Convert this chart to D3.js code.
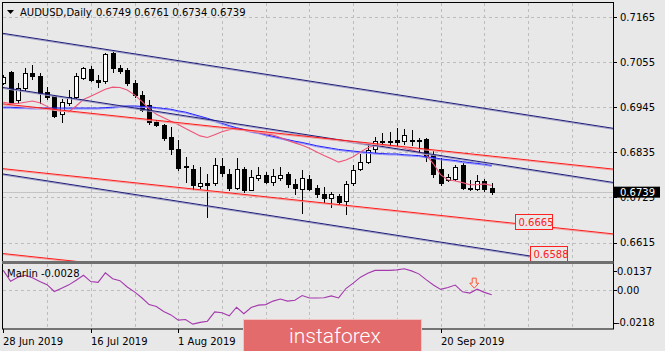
<!DOCTYPE html>
<html lang="en">
<head>
<meta charset="UTF-8" />
<title>AUDUSD,Daily</title>
<script src="https://cdn.jsdelivr.net/npm/d3@7"></script>
<style>
  body { margin: 0; background: #e8e8e8; }
  svg { display: block; font-family: "DejaVu Sans", sans-serif; font-size: 10px; }
</style>
</head>
<body>
<div id="wrapper"></div>
<script>
// daily candles, 28 Jun 2019 .. 1 Oct 2019
const opens = [0.7003, 0.7031, 0.6962, 0.6991, 0.7029, 0.7021, 0.6983, 0.6972, 0.6928, 0.6956,
  0.6970, 0.7015, 0.7037, 0.7011, 0.7009, 0.7076, 0.7041, 0.7036, 0.7005, 0.6974,
  0.6950, 0.6909, 0.6901, 0.6873, 0.6844, 0.6801, 0.6795, 0.6752, 0.6759, 0.6759,
  0.6801, 0.6783, 0.6749, 0.6795, 0.6744, 0.6773, 0.6779, 0.6763, 0.6773, 0.6781,
  0.6757, 0.6746, 0.6771, 0.6749, 0.6733, 0.6724, 0.6728, 0.6716, 0.6759, 0.6795,
  0.6811, 0.6842, 0.6862, 0.6862, 0.6864, 0.6862, 0.6864, 0.6864, 0.6867, 0.6828,
  0.6795, 0.6767, 0.6771, 0.6803, 0.6748, 0.6746, 0.6764, 0.6749]
const highs = [0.7023, 0.7034, 0.7004, 0.7040, 0.7048, 0.7028, 0.6995, 0.6974, 0.6966, 0.6987,
  0.7028, 0.7044, 0.7045, 0.7023, 0.7078, 0.7084, 0.7048, 0.7040, 0.7011, 0.6985,
  0.6962, 0.6913, 0.6904, 0.6897, 0.6864, 0.6823, 0.6803, 0.6799, 0.6783, 0.6822,
  0.6820, 0.6795, 0.6820, 0.6799, 0.6791, 0.6799, 0.6787, 0.6795, 0.6799, 0.6787,
  0.6771, 0.6791, 0.6779, 0.6755, 0.6750, 0.6738, 0.6734, 0.6765, 0.6803, 0.6832,
  0.6856, 0.6873, 0.6881, 0.6885, 0.6895, 0.6893, 0.6889, 0.6870, 0.6870, 0.6838,
  0.6820, 0.6781, 0.6805, 0.6808, 0.6767, 0.6779, 0.6771, 0.6761]
const lows = [0.7001, 0.6955, 0.6955, 0.6987, 0.7014, 0.6955, 0.6966, 0.6920, 0.6909, 0.6950,
  0.6967, 0.7013, 0.7009, 0.6995, 0.7003, 0.7031, 0.7028, 0.6999, 0.6970, 0.6935,
  0.6904, 0.6899, 0.6864, 0.6832, 0.6791, 0.6763, 0.6745, 0.6749, 0.6676, 0.6755,
  0.6777, 0.6744, 0.6746, 0.6738, 0.6742, 0.6767, 0.6759, 0.6755, 0.6767, 0.6750,
  0.6734, 0.6687, 0.6742, 0.6726, 0.6714, 0.6701, 0.6710, 0.6685, 0.6755, 0.6791,
  0.6808, 0.6836, 0.6852, 0.6854, 0.6854, 0.6856, 0.6854, 0.6836, 0.6813, 0.6775,
  0.6755, 0.6764, 0.6767, 0.6745, 0.6742, 0.6742, 0.6740, 0.6734]
const closes = [0.7019, 0.6958, 0.6992, 0.7029, 0.7021, 0.6979, 0.6970, 0.6923, 0.6958, 0.6970,
  0.7021, 0.7040, 0.7011, 0.7006, 0.7075, 0.7040, 0.7034, 0.7003, 0.6974, 0.6938,
  0.6909, 0.6901, 0.6869, 0.6842, 0.6796, 0.6798, 0.6755, 0.6759, 0.6755, 0.6803,
  0.6785, 0.6749, 0.6795, 0.6742, 0.6775, 0.6779, 0.6763, 0.6777, 0.6779, 0.6757,
  0.6749, 0.6773, 0.6746, 0.6733, 0.6724, 0.6734, 0.6714, 0.6757, 0.6793, 0.6811,
  0.6840, 0.6862, 0.6859, 0.6859, 0.6860, 0.6878, 0.6862, 0.6862, 0.6824, 0.6781,
  0.6759, 0.6775, 0.6799, 0.6748, 0.6745, 0.6764, 0.6746, 0.6739]

// moving averages drawn on the chart
const maFast = [0.6957, 0.6954, 0.6954, 0.6957, 0.6960, 0.6956, 0.6947, 0.6938, 0.6935, 0.6934,
  0.6948, 0.6964, 0.6972, 0.6980, 0.6989, 0.6994, 0.6993, 0.6987, 0.6975, 0.6959,
  0.6941, 0.6928, 0.6919, 0.6911, 0.6903, 0.6893, 0.6884, 0.6875, 0.6871, 0.6878,
  0.6885, 0.6890, 0.6892, 0.6889, 0.6886, 0.6883, 0.6880, 0.6877, 0.6871, 0.6864,
  0.6858, 0.6852, 0.6845, 0.6836, 0.6827, 0.6819, 0.6811, 0.6816, 0.6824, 0.6836,
  0.6846, 0.6852, 0.6851, 0.6851, 0.6849, 0.6845, 0.6841, 0.6835, 0.6829, 0.6807,
  0.6780, 0.6768, 0.6765, 0.6761, 0.6756, 0.6756, 0.6758, 0.6754]
const maSlow = [0.6945, 0.6945, 0.6944, 0.6944, 0.6943, 0.6943, 0.6943, 0.6943, 0.6943, 0.6943,
  0.6943, 0.6943, 0.6943, 0.6943, 0.6944, 0.6945, 0.6947, 0.6948, 0.6948, 0.6947,
  0.6946, 0.6944, 0.6942, 0.6940, 0.6936, 0.6933, 0.6928, 0.6923, 0.6918, 0.6912,
  0.6906, 0.6900, 0.6895, 0.6891, 0.6886, 0.6883, 0.6878, 0.6874, 0.6870, 0.6866,
  0.6862, 0.6859, 0.6855, 0.6851, 0.6848, 0.6845, 0.6842, 0.6840, 0.6838, 0.6836,
  0.6835, 0.6833, 0.6832, 0.6831, 0.6831, 0.6829, 0.6828, 0.6827, 0.6824, 0.6822,
  0.6819, 0.6817, 0.6815, 0.6812, 0.6810, 0.6808, 0.6806, 0.6803]

// Marlin oscillator
const marlin = [0.0112, 0.0050, 0.0073, 0.0084, 0.0070, 0.0048, 0.0030, -0.0009, 0.0010, 0.0029,
  0.0055, 0.0084, 0.0048, 0.0043, 0.0098, 0.0064, 0.0053, 0.0017, -0.0011, -0.0045,
  -0.0084, -0.0095, -0.0123, -0.0143, -0.0173, -0.0169, -0.0196, -0.0186, -0.0179, -0.0126,
  -0.0131, -0.0148, -0.0099, -0.0136, -0.0101, -0.0087, -0.0084, -0.0064, -0.0052, -0.0064,
  -0.0059, -0.0032, -0.0046, -0.0046, -0.0045, -0.0034, -0.0046, 0.0008, 0.0039, 0.0073,
  0.0095, 0.0112, 0.0112, 0.0112, 0.0115, 0.0121, 0.0109, 0.0092, 0.0059, 0.0028,
  0.0003, 0.0014, 0.0028, -0.0011, -0.0018, 0.0004, -0.0014, -0.0028]

const priceTicks = [0.7165, 0.7055, 0.6945, 0.6835, 0.6725, 0.6615]
const marlinTicks = [0.0137, 0, -0.0218]
const marlinTickLabels = ['0.0137', '0.00', '-0.0218']
// the labels for 19 Aug and 4 Sep sit under the watermark and are not visible
const dateTickBars = [0, 12, 24, 60]
const dateTickLabels = ['28 Jun 2019', '16 Jul 2019', '1 Aug 2019', '20 Sep 2019']

// channels: price at bar 0 and bar 60
const channelBars = [0, 60]
const navyChannel = [[0.7125, 0.6959], [0.6993, 0.6827], [0.6782, 0.6616]]
const redChannel = [[0.6953, 0.6839], [0.6795, 0.6681], [0.6588, 0.6474]]

const levelLabels = ['0.6665', '0.6588']
const levelPrices = [0.6665, 0.6588]
const levelBars = [70.2, 72.3]

const lastPrice = 0.6739
const signalBar = 64.6
const signalValue = 0.001

const dms = {
  width: 665, height: 351,
  left: 3, right: 613,
  top: 3, mainBottom: 261,
  subTop: 264, subBottom: 329
}
const bg = '#e8e8e8'

const x = d3.scaleLinear().domain([0, 67]).range([3.3, 491.7])
const y = d3.scaleLinear().domain([0.7165, 0.6615]).range([17, 242.5])
const ySub = d3.scaleLinear().domain([0.0137, -0.0218]).range([266, 328])
const px = v => Math.round(v) + 0.5

const svg = d3.select('#wrapper').append('svg')
  .attr('width', dms.width)
  .attr('height', dms.height)
svg.append('rect').attr('width', dms.width).attr('height', dms.height).attr('fill', bg)

const defs = svg.append('defs')
defs.append('clipPath').attr('id', 'clipMain').append('rect')
  .attr('x', dms.left).attr('y', dms.top)
  .attr('width', dms.right - dms.left).attr('height', dms.mainBottom - dms.top)
defs.append('clipPath').attr('id', 'clipSub').append('rect')
  .attr('x', dms.left).attr('y', dms.subTop)
  .attr('width', dms.right - dms.left).attr('height', dms.subBottom - dms.subTop)

// grid
const grid = svg.append('g').attr('stroke', '#bdbdbd').attr('stroke-dasharray', '3,3')
d3.range(6, 84, 6).forEach(b => {
  grid.append('line').attr('x1', px(x(b))).attr('x2', px(x(b)))
    .attr('y1', dms.top).attr('y2', dms.mainBottom)
  grid.append('line').attr('x1', px(x(b))).attr('x2', px(x(b)))
    .attr('y1', dms.subTop).attr('y2', dms.subBottom)
})
priceTicks.forEach(p => {
  grid.append('line').attr('x1', dms.left).attr('x2', dms.right)
    .attr('y1', px(y(p))).attr('y2', px(y(p)))
})
grid.append('line').attr('x1', dms.left).attr('x2', dms.right)
  .attr('y1', px(ySub(0))).attr('y2', px(ySub(0)))

const main = svg.append('g').attr('clip-path', 'url(#clipMain)')

// last price line
main.append('line').attr('x1', dms.left).attr('x2', dms.right)
  .attr('y1', px(y(lastPrice))).attr('y2', px(y(lastPrice)))
  .attr('stroke', '#c4c4c4')

// candles
closes.forEach((c, i) => {
  const o = opens[i]
  const cx = Math.round(x(i))
  const up = c >= o
  const top = Math.round(y(Math.max(o, c)))
  const bot = Math.round(y(Math.min(o, c)))
  main.append('line')
    .attr('x1', cx + 0.5).attr('x2', cx + 0.5)
    .attr('y1', Math.round(y(highs[i]))).attr('y2', Math.round(y(lows[i])) + 1)
    .attr('stroke', '#000')
  main.append('rect')
    .attr('x', cx - 1.5).attr('y', top + 0.5)
    .attr('width', 4).attr('height', Math.max(1, bot - top))
    .attr('fill', up ? '#fff' : '#000')
    .attr('stroke', '#000')
})

// moving averages
const maLine = d3.line().x((d, i) => x(i)).y(d => y(d))
main.append('path').attr('d', maLine(maSlow)).attr('fill', 'none')
  .attr('stroke', '#8c8cff').attr('transform', 'translate(0,1)')
main.append('path').attr('d', maLine(maSlow)).attr('fill', 'none')
  .attr('stroke', '#2222ff')
main.append('path').attr('d', maLine(maFast)).attr('fill', 'none')
  .attr('stroke', '#ee5577').attr('stroke-width', 1.1)

// channel rays
function drawRay(pair, dark, light) {
  const s = d3.scaleLinear().domain(channelBars).range(pair)
  const pts = [-2, 86].map(b => [x(b), y(s(b))])
  const d = d3.line()(pts)
  main.append('path').attr('d', d).attr('fill', 'none')
    .attr('stroke', light).attr('transform', 'translate(0,1)')
  main.append('path').attr('d', d).attr('fill', 'none').attr('stroke', dark)
}
navyChannel.forEach(p => drawRay(p, '#1c1c78', '#a09cc8'))
redChannel.forEach(p => drawRay(p, '#ff1a1a', '#f4a0a0'))

// level labels
levelLabels.forEach((t, i) => {
  const lx = Math.round(x(levelBars[i])) + 0.5
  const ly = Math.round(y(levelPrices[i]) - 7.5) + 0.5
  main.append('rect').attr('x', lx).attr('y', ly).attr('width', 37).attr('height', 15)
    .attr('fill', bg).attr('stroke', '#ff2020')
  main.append('text').attr('x', lx + 3).attr('y', ly + 11.5)
    .attr('fill', '#ff2020').text(t)
})

// title
svg.append('path').attr('d', 'M7,10 L14,10 L10.5,14 Z').attr('fill', '#000')
svg.append('text').attr('x', 20).attr('y', 16).attr('fill', '#000').text('AUDUSD,Daily')
const last = closes.length - 1
svg.append('text').attr('x', 96).attr('y', 16).attr('fill', '#000')
  .text([opens[last], highs[last], lows[last], closes[last]].map(v => v.toFixed(4)).join(' '))

// sub window
const sub = svg.append('g').attr('clip-path', 'url(#clipSub)')
const mLine = d3.line().x((d, i) => x(i)).y(d => ySub(d))
sub.append('path').attr('d', mLine(marlin)).attr('fill', 'none')
  .attr('stroke', '#a43aae').attr('stroke-width', 1.1)
const ax = x(signalBar)
const ay = ySub(signalValue)
sub.append('path')
  .attr('d', `M${ax - 2},${ay - 10} h4 v5 h2.5 l-4.5,5 l-4.5,-5 h2.5 Z`)
  .attr('fill', 'none').attr('stroke', '#ff5533')
svg.append('text').attr('x', 7).attr('y', 277).attr('fill', '#000')
  .text('Marlin ' + marlin[marlin.length - 1].toFixed(4))

// frame and separator
svg.append('rect').attr('x', 2.5).attr('y', 2.5)
  .attr('width', dms.right - 2).attr('height', dms.subBottom - 2.5)
  .attr('fill', 'none').attr('stroke', '#000')
svg.append('rect').attr('x', 2).attr('y', dms.mainBottom)
  .attr('width', dms.right - 1.5).attr('height', 3).attr('fill', '#6f6f6f')

// right price axis
const axisR = svg.append('g')
priceTicks.forEach(p => {
  axisR.append('line').attr('x1', dms.right).attr('x2', dms.right + 4)
    .attr('y1', px(y(p))).attr('y2', px(y(p))).attr('stroke', '#000')
  axisR.append('text').attr('x', 620).attr('y', y(p) + 3.6).attr('fill', '#000')
    .text(p.toFixed(4))
})
const ly = y(lastPrice)
axisR.append('rect').attr('x', dms.right).attr('y', ly - 5).attr('width', 47).attr('height', 11)
  .attr('fill', '#000')
axisR.append('text').attr('x', 620).attr('y', ly + 4).attr('fill', '#fff').text(lastPrice.toFixed(4))

marlinTicks.forEach((v, i) => {
  const ty = Math.max(271, Math.min(322.5, ySub(v)))
  axisR.append('line').attr('x1', dms.right).attr('x2', dms.right + 4)
    .attr('y1', px(ty)).attr('y2', px(ty)).attr('stroke', '#000')
  axisR.append('text').attr('x', v < 0 ? 616 : 617).attr('y', ty + 3.6).attr('fill', '#000')
    .text(marlinTickLabels[i])
})

// date axis
dateTickBars.forEach((b, i) => {
  const tx = px(x(b))
  svg.append('line').attr('x1', tx).attr('x2', tx)
    .attr('y1', dms.subBottom).attr('y2', dms.subBottom + 4).attr('stroke', '#000')
  svg.append('text').attr('x', tx - 0.5).attr('y', 345).attr('fill', '#000').text(dateTickLabels[i])
})

// watermark
svg.append('rect').attr('x', 243.5).attr('y', 319.5).attr('width', 178).attr('height', 40)
  .attr('fill', '#e36b6b').attr('stroke', '#f3c3c3')
svg.append('text').attr('x', 289).attr('y', 342.5)
  .style('font-family', 'Roboto, sans-serif').style('font-weight', 300).style('font-size', '21px')
  .attr('fill', '#fff').text('instaforex')
</script>
</body>
</html>
